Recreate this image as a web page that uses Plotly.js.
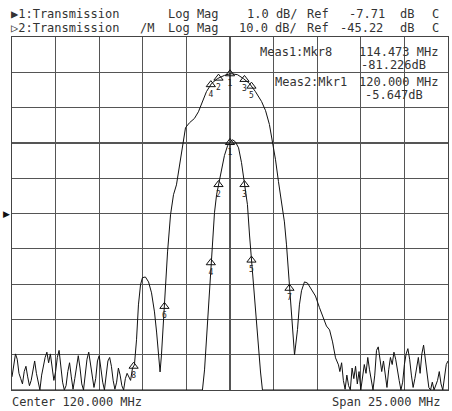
<!DOCTYPE html>
<html>
<head>
<meta charset="utf-8">
<script src="https://cdn.plot.ly/plotly-3.0.1.min.js"></script>
<style>html,body{margin:0;padding:0;background:#fff;}#chart{width:452px;height:411px;}</style>
</head>
<body>
<div id="chart"></div>
<script>
// ---- Sweep settings ----
const centerMHz = 120.0;
const spanMHz = 25.0;
const ch1Ref = -7.71, ch1Scale = 1.0;    // dB, dB/div
const ch2Ref = -45.22, ch2Scale = 10.0;  // dB, dB/div

// ---- Channel 2 (wide response, 10 dB/div): noise floor left, main lobe, noise floor right ----
const leftNoiseStart = 107.5, noiseStep = 0.1;
const leftNoise = [-91.5,-88.0,-85.0,-86.5,-90.5,-92.0,-93.5,-90.0,-88.5,-91.5,
  -94.0,-92.5,-89.0,-87.0,-90.5,-93.0,-95.2,-91.0,-88.0,-86.0,
  -84.5,-87.5,-85.0,-89.5,-92.5,-90.0,-86.0,-84.0,-88.5,-93.0,
  -95.2,-94.0,-90.0,-87.5,-91.5,-95.0,-92.0,-88.5,-85.5,-89.0,
  -93.5,-95.2,-91.0,-86.5,-84.5,-88.0,-90.5,-94.5,-92.0,-87.0,
  -85.5,-89.5,-93.0,-95.2,-90.5,-87.0,-86.0,-88.5,-92.5,-95.0,
  -93.0,-89.0,-91.0,-94.0,-95.2,-92.0,-90.5,-91.5,-92.5];
const mainF = [114.41,114.52,114.64,114.75,114.87,114.98,115.15,115.33,115.50,115.67,115.79,115.90,115.99,
  116.07,116.19,116.30,116.42,116.59,116.76,116.93,117.10,117.28,117.45,117.68,117.96,118.19,118.42,118.65,118.94,
  119.28,119.68,120.03,120.43,120.77,121.12,121.46,121.81,122.04,122.26,122.44,122.61,122.78,122.95,
  123.12,123.24,123.35,123.47,123.58,123.70,123.87,123.98,124.10,124.27,124.44,124.67,124.90,
  125.13,125.36,125.53,125.71,125.88,126.05,126.22];
const mainV = [-89.0,-88.1,-81.0,-71.1,-65.4,-63.4,-63.2,-64.6,-67.7,-73.1,-78.8,-85.3,-90.1,
  -85.3,-75.4,-66.9,-56.1,-45.6,-39.9,-37.1,-31.4,-25.2,-20.9,-19.5,-18.3,-16.4,-13.5,-10.7,-8.4,
  -7.0,-6.1,-5.6,-5.9,-7.0,-8.4,-10.7,-13.5,-16.1,-20.0,-24.9,-30.0,-36.2,-41.3,
  -47.6,-54.1,-61.7,-71.1,-78.8,-85.3,-78.1,-71.1,-67.1,-64.6,-64.9,-66.6,-68.6,
  -71.9,-74.8,-77.1,-78.2,-81.6,-86.1,-88.1];
const rightNoiseStart = 126.3;
const rightNoise = [-90.0,-87.5,-92.5,-95.0,-91.0,-94.0,-95.2,-89.0,-92.0,-88.5,
  -93.5,-90.0,-95.2,-92.0,-88.0,-90.5,-86.0,-89.5,-93.0,-95.2,
  -91.0,-84.0,-83.0,-86.5,-90.0,-87.0,-91.5,-94.5,-89.5,-86.0,
  -88.0,-84.5,-86.5,-90.0,-92.5,-95.2,-93.0,-88.0,-85.0,-83.5,
  -86.5,-91.0,-94.5,-92.0,-89.0,-86.0,-90.5,-85.0,-82.5,-87.0,
  -91.5,-94.5,-95.2,-93.0,-95.2,-94.0,-92.5,-90.0,-93.5,-95.2,
  -91.5,-88.0,-87.0];

// ---- Channel 1 (narrow response, 1 dB/div), clipped values shown at the bottom graticule ----
const narrowF = [107.5,118.42,118.54,118.65,118.77,118.88,118.99,119.11,119.23,119.34,119.51,119.68,119.86,
  120.03,120.14,120.31,120.49,120.66,120.83,121.00,121.12,121.23,121.40,121.58,121.75,121.86,132.5];
const narrowV = [-12.71,-12.71,-12.14,-11.29,-10.16,-9.25,-8.45,-7.69,-7.18,-6.89,-6.41,-6.07,-5.79,
  -5.68,-5.62,-5.68,-5.85,-6.27,-6.89,-7.46,-8.32,-9.03,-9.93,-11.15,-12.20,-12.71,-12.71];

// ---- Markers ----
const markerLabels = ['1','2','3','4','5','6','7','8'];
const markerFreqs = [120.000,119.34,120.83,118.90,121.23,116.24,123.41,114.473];
const ch1MarkerCount = 7;

// ---- Texts ----
const header1 = [['▶1:Transmission',9],['Log Mag',166],['1.0 dB/',245],['Ref',305],['-7.71',347],['dB',398],['C',430]];
const header2 = [['▷2:Transmission',9],['/M',138],['Log Mag',166],['10.0 dB/',237],['Ref',305],['-45.22',338],['dB',398],['C',430]];
const measText = [['Meas1:Mkr8',258,52],['114.473 MHz',357,52],['-81.226dB',359,65],
                  ['Meas2:Mkr1',273,82],['120.000 MHz',357,82],['-5.647dB',363,95]];
const footer = [['Center 120.000 MHz',10,402],['Span 25.000 MHz',330,402]];

// ---- Build traces ----
const wideF = [], wideV = [];
leftNoise.forEach((v,i)=>{ wideF.push(leftNoiseStart + i*noiseStep); wideV.push(v); });
mainF.forEach((f,i)=>{ wideF.push(f); wideV.push(mainV[i]); });
rightNoise.forEach((v,i)=>{ wideF.push(rightNoiseStart + i*noiseStep); wideV.push(v); });

function interp(xs, ys, x){
  for(let i=0;i<xs.length-1;i++){
    if(x>=xs[i] && x<=xs[i+1]){ const t=(x-xs[i])/(xs[i+1]-xs[i]); return ys[i]+t*(ys[i+1]-ys[i]); }
  }
  return ys[ys.length-1];
}
const xMin = centerMHz - spanMHz/2, xMax = centerMHz + spanMHz/2;
const y2Min = ch2Ref - 5*ch2Scale, y2Max = ch2Ref + 5*ch2Scale;
const y1Min = ch1Ref - 5*ch1Scale, y1Max = ch1Ref + 5*ch1Scale;

const wideMkV = markerFreqs.map(f=>interp(wideF, wideV, f));
const nF = markerFreqs.slice(0,ch1MarkerCount);
const nV = nF.map(f=>Math.max(interp(narrowF, narrowV, f), y1Min - 0.22*ch1Scale));
const nVadj = nV.map(v=> v<=y1Min+0.01 ? y1Min - 0.22*ch1Scale : v);

const lineStyle = {color:'#111', width:1};
const mkStyle = {symbol:'triangle-up-open', size:8, color:'#111', line:{width:1,color:'#111'}};
const traces = [
  {x:wideF, y:wideV, type:'scatter', mode:'lines', line:lineStyle, yaxis:'y', hoverinfo:'skip'},
  {x:narrowF, y:narrowV, type:'scatter', mode:'lines', line:lineStyle, yaxis:'y2', hoverinfo:'skip'},
  {x:markerFreqs, y:wideMkV, type:'scatter', mode:'markers+text', marker:mkStyle, text:markerLabels,
   textposition:'bottom center', textfont:{family:'DejaVu Sans Mono', size:8, color:'#222'}, yaxis:'y', cliponaxis:false},
  {x:nF, y:nVadj, type:'scatter', mode:'markers+text', marker:mkStyle, text:markerLabels.slice(0,ch1MarkerCount),
   textposition:'bottom center', textfont:{family:'DejaVu Sans Mono', size:8, color:'#222'}, yaxis:'y2', cliponaxis:false}
];

const L=12, R=4, T=37, B=21, W=452, H=411;
const pw = W-L-R, ph = H-T-B;
const px = x => (x-L)/pw;
const py = y => (H-B-y)/ph;
const tf = {family:'DejaVu Sans Mono', size:12, color:'#333'};
const ann = [];
function addText(t,x,y){ ann.push({text:t, xref:'paper', yref:'paper', x:px(x), y:py(y), xanchor:'left', yanchor:'middle', showarrow:false, font:tf}); }
header1.forEach(([t,x])=>addText(t,x,14));
header2.forEach(([t,x])=>addText(t,x,28));
measText.forEach(([t,x,y])=>addText(t,x,y));
footer.forEach(([t,x,y])=>addText(t,x,y));
ann.push({text:'▶', xref:'paper', yref:'paper', x:px(6), y:0.5, xanchor:'center', yanchor:'middle', showarrow:false, font:{family:'DejaVu Sans', size:9, color:'#111'}});

const layout = {
  width:W, height:H, margin:{l:L, r:R, t:T, b:B, pad:0},
  paper_bgcolor:'#fff', plot_bgcolor:'#fff', showlegend:false,
  xaxis:{range:[xMin,xMax], tick0:xMin, dtick:spanMHz/10, showgrid:true, gridcolor:'#555', gridwidth:1.2,
         showticklabels:false, ticks:'', zeroline:false, showline:true, mirror:true, linecolor:'#444', linewidth:1.2, fixedrange:true},
  yaxis:{range:[y2Min,y2Max], tick0:y2Min, dtick:ch2Scale, showgrid:true, gridcolor:'#555', gridwidth:1.2,
         showticklabels:false, ticks:'', zeroline:false, showline:true, mirror:true, linecolor:'#444', linewidth:1.2, fixedrange:true},
  yaxis2:{range:[y1Min,y1Max], overlaying:'y', showgrid:false, showticklabels:false, ticks:'', zeroline:false, showline:false, fixedrange:true},
  annotations:ann
};
Plotly.newPlot('chart', traces, layout, {staticPlot:true, displayModeBar:false});
</script>
</body>
</html>
